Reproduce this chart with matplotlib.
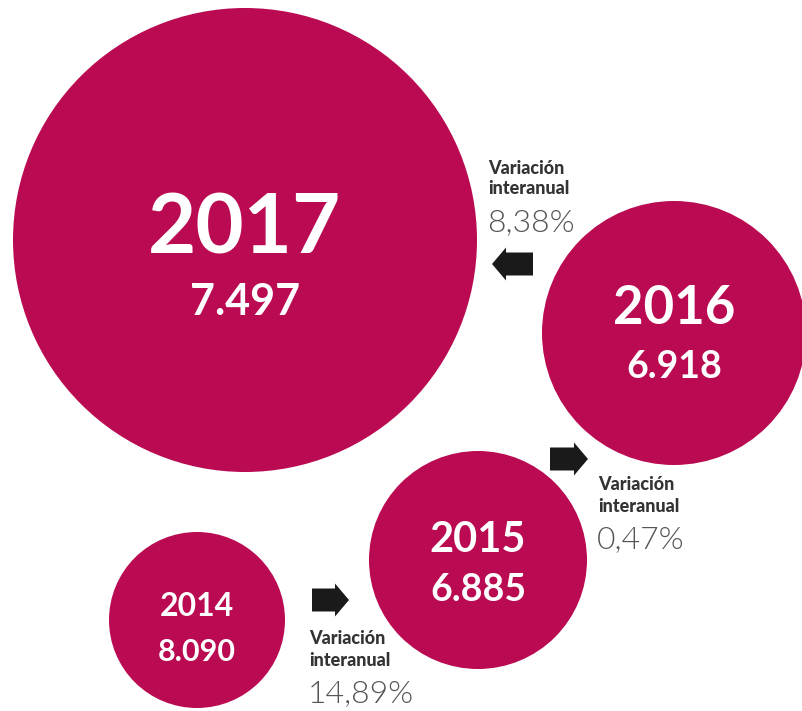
import matplotlib.pyplot as plt
import matplotlib.patches as mpatches

# datos
anios = ['2014', '2015', '2016', '2017']
valores = ['8.090', '6.885', '6.918', '7.497']
variaciones = ['14,89%', '0,47%', '8,38%']

# posicion (x, y, radio) de cada burbuja, en pixeles
burbujas = [(197, 620, 88), (478, 560, 109), (674, 333, 132), (245, 240, 232)]
# tamanio de letra (anio, valor)
letras = [(23, 22), (30, 27), (38, 27), (60, 31)]
# separacion vertical anio/valor respecto al centro
desfases = [(-13, 32), (-20, 30), (-25, 34), (-10, 62)]

rojo = '#BA0A51'

fig = plt.figure(figsize=(8.02, 7.11), dpi=100)
ax = fig.add_axes([0, 0, 1, 1])
ax.set_xlim(0, 802)
ax.set_ylim(711, 0)
ax.set_aspect('equal')
ax.axis('off')

for i in range(len(anios)):
    x, y, r = burbujas[i]
    ax.add_patch(mpatches.Circle((x, y), r, color=rojo, ec='none'))
    ax.text(x, y + desfases[i][0], anios[i], color='white', fontsize=letras[i][0],
            fontfamily='Lato', fontweight='bold', ha='center', va='center')
    ax.text(x, y + desfases[i][1], valores[i], color='white', fontsize=letras[i][1],
            fontfamily='Lato', fontweight='bold', ha='center', va='center')

# flechas
flechas = [(312, 600, 37), (550, 459, 38), (533, 264, -41)]
for x, y, dx in flechas:
    ax.add_patch(mpatches.FancyArrow(x, y, dx, 0, width=23, head_width=33,
                                     head_length=14, length_includes_head=True,
                                     color='#1a1a1a', lw=0))

# textos de variacion interanual (x, y de la primera linea)
textos = [(309, 639), (598, 485), (488, 168)]
for (x, y), v in zip(textos, variaciones):
    ax.text(x, y, 'Variación', fontsize=13, fontfamily='Lato', fontweight='black',
            color='#333333', ha='left', va='center')
    ax.text(x, y + 21, 'interanual', fontsize=13, fontfamily='Lato', fontweight='black',
            color='#333333', ha='left', va='center')
    ax.text(x - 1, y + 55, v, fontsize=23, fontfamily='Lato', fontweight=300,
            color='#555555', ha='left', va='center')

fig.savefig('out.png', dpi=100)
